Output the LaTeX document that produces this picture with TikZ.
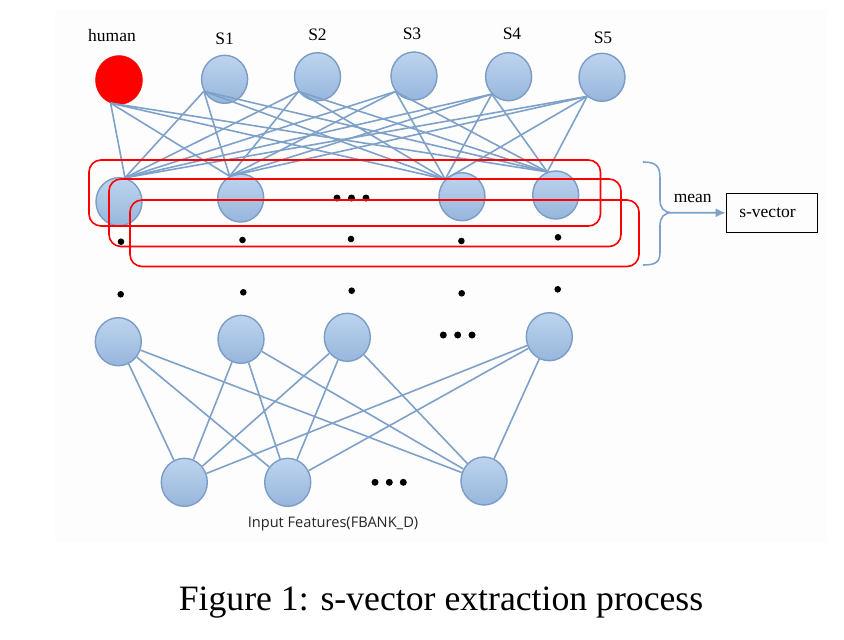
\documentclass[tikz,border=0pt]{standalone}
\usepackage{fontspec}
\setmainfont{Liberation Serif}
\newfontfamily\inputfont{Open Sans}
\usetikzlibrary{shapes.geometric,arrows.meta}
\definecolor{bgc}{HTML}{FDFDFD}
\definecolor{ntop}{HTML}{BDD4EE}
\definecolor{nbot}{HTML}{97B6DC}
\definecolor{nbord}{HTML}{7B9CC6}
\definecolor{edgec}{HTML}{7EA1C9}
\tikzset{
  neuron/.style={ellipse, minimum width=46pt, minimum height=48pt, inner sep=0pt,
    draw=nbord, line width=1.4pt, top color=ntop, bottom color=nbot},
  humannode/.style={ellipse, minimum width=47pt, minimum height=49pt, inner sep=0pt,
    draw=red, fill=red},
  edge/.style={draw=edgec, line width=1.6pt},
  lbl/.style={font=\fontsize{17.5}{20}\selectfont, inner sep=0pt},
  group/.style={draw=red, line width=1.6pt, rounded corners=12pt},
  dotmark/.style={fill=black},
}
\begin{document}
\begin{tikzpicture}[x=1pt,y=-1pt]
\useasboundingbox (0,0) rectangle (844,640);
\fill[bgc] (55,10) rectangle (827,542);

% top layer
\node[humannode] (hu) at (119,80) {};
\node[neuron] (s1) at (224.6,79.3) {};
\node[neuron] (s2) at (317.5,76.7) {};
\node[neuron] (s3) at (414,76) {};
\node[neuron] (s4) at (508.6,76.7) {};
\node[neuron] (s5) at (602,77.3) {};
\node[lbl] (lhu) at (112,36) {human};
\node[lbl] (ls1) at (224.6,38.3) {S1};
\node[lbl] (ls2) at (317.5,35) {S2};
\node[lbl] (ls3) at (412,33.3) {S3};
\node[lbl] (ls4) at (512,34) {S4};
\node[lbl] (ls5) at (603,37.3) {S5};

% hidden layer (top)
\node[neuron] (h1) at (119,201.7) {};
\node[neuron] (h2) at (240.7,198) {};
\node[neuron] (h3) at (462,196.7) {};
\node[neuron] (h4) at (555.7,195) {};

\foreach \t/\ta in {hu/250,s1/210,s2/218,s3/220,s4/226,s5/232}
  \foreach \h/\ha in {h1/76,h2/117,h3/134,h4/110}
    \draw[edge] (\t.\ta) -- (\h.\ha);

% ellipsis in hidden row
\foreach \x in {337,351.5,366} \fill[dotmark] (\x,198) circle (3.5);

% red groups
\draw[group] (89,160) rectangle (600.5,226);
\draw[group] (109,179) rectangle (621,246.5);
\draw[group] (130,200) rectangle (639,266.5);

% vertical dots
\foreach \x/\y in {121/241.7,242.5/240,351/239,461.4/241,558/237.3,
                   120.7/294.3,243.3/292.3,351.7/290.7,461.7/293.3,557.7/289.3}
  \fill[dotmark] (\x,\y) circle (3.3);

% lower hidden layer
\node[neuron] (l1) at (118.3,341.7) {};
\node[neuron] (l2) at (241,339.3) {};
\node[neuron] (l3) at (347.3,337.3) {};
\node[neuron] (l4) at (549.3,336.7) {};
\foreach \x in {443.3,457.7,472} \fill[dotmark] (\x,335) circle (3.5);

% input layer
\node[neuron] (i1) at (184.3,482.3) {};
\node[neuron] (i2) at (287.7,482.3) {};
\node[neuron] (i3) at (484,481) {};
\foreach \x in {375,389.3,403.3} \fill[dotmark] (\x,482.3) circle (3.5);

\foreach \l in {l1,l2,l3,l4}
  \foreach \i in {i1,i2,i3}
    \draw[edge] (\l) -- (\i);

\node[font=\inputfont\fontsize{14.6}{17}\selectfont, text=black!85, inner sep=0pt] (inl) at (333,524.3) {Input Features(FBANK\_D)};

% brace, mean, s-vector
\coordinate (btop) at (643,162);
\coordinate (btip) at (672,212.7);
\coordinate (bbot) at (643,265);
\draw[edgec, line width=1.6pt] (btop) .. controls (656,162) and (660,166) .. (660,178)
  -- (660,200) .. controls (660,208) and (664,212.7) .. (btip)
  .. controls (664,212.7) and (660,217) .. (660,226)
  -- (660,252) .. controls (660,262) and (656,265) .. (bbot);
\node[draw=black, line width=1pt, minimum width=91.7pt, minimum height=39pt, inner sep=0pt,
      font=\fontsize{17.5}{20}\selectfont] (sv) at (772,212.8) {\hspace*{-9pt}s-vector};
\draw[edgec, line width=1.6pt, -{Latex[length=10pt,width=9pt]}] (btip) -- (sv.west);
\node[lbl] (mean) at (692.7,198) {mean};

% caption
\node[anchor=base, font=\fontsize{35.7}{40}\selectfont, inner sep=0pt] (cap) at (441,610) {Figure 1: s-vector extraction process};
\end{tikzpicture}
\end{document}
